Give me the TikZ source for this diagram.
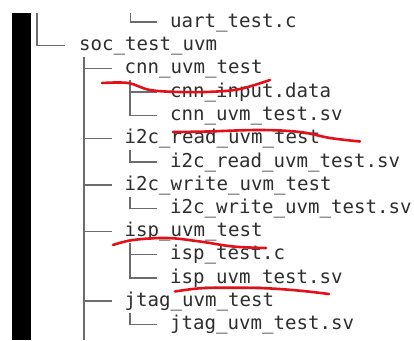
\documentclass[tikz,border=0pt]{standalone}
\usepackage{fontspec}
\setmonofont{DejaVu Sans Mono}
\usetikzlibrary{calc}
\definecolor{ink}{HTML}{2E2E2E}
\definecolor{rule}{HTML}{6C6C6C}
\definecolor{pen}{HTML}{E3101A}
\begin{document}
\begin{tikzpicture}[x=1pt,y=-1pt,
  entry/.style={anchor=base west, inner sep=0pt, text=ink,
    font=\ttfamily\fontsize{19.1}{23}\selectfont},
  branch/.style={draw=rule, line width=1.4pt},
  scribble/.style={draw=pen, line width=2.6pt, line cap=round, line join=round}]
\useasboundingbox (0,0) rectangle (414,340);
% dark side bar
\fill[black] (12,13) rectangle (31,340);

% directory entries (baseline = row centre + 5.3)
\node[entry] (uart)    at (170,27.3)    {uart\_test.c};
\node[entry] (soc)     at (79,50.6)     {soc\_test\_uvm};
\node[entry] (cnn)     at (124.5,73.9)  {cnn\_uvm\_test};
\node[entry] (cnnin)   at (170,97.2)    {cnn\_input.data};
\node[entry] (cnnsv)   at (170,120.5)   {cnn\_uvm\_test.sv};
\node[entry] (i2cr)    at (124.5,143.8) {i2c\_read\_uvm\_test};
\node[entry] (i2crsv)  at (170,167.1)   {i2c\_read\_uvm\_test.sv};
\node[entry] (i2cw)    at (124.5,190.4) {i2c\_write\_uvm\_test};
\node[entry] (i2cwsv)  at (170,213.7)   {i2c\_write\_uvm\_test.sv};
\node[entry] (isp)     at (124.5,236.5) {isp\_uvm\_test};
\node[entry] (ispc)    at (170,259.8)   {isp\_test.c};
\node[entry] (ispsv)   at (170,283.1)   {isp\_uvm\_test.sv};
\node[entry] (jtag)    at (124.5,306.4) {jtag\_uvm\_test};
\node[entry] (jtagsv)  at (170,329.9)   {jtag\_uvm\_test.sv};

% branches continuing from above and below the visible part
\coordinate (top0) at (37,13);
\coordinate (top2) at (130.5,13);
\coordinate (more) at (84,340);

\draw[branch] (top2) |- ($(uart.base west)+(-13,-5.3)$);
\draw[branch] (top0) |- ($(soc.base west)+(-14,-5.3)$);
\draw[branch] ($(soc.base west)+(5,6.5)$) -- (more);
\foreach \c in {cnn,i2cr,i2cw,isp,jtag}
  \draw[branch] ($(soc.base west)+(5,6.5)$) |- ($(\c.base west)+(-13,-5.3)$);
\foreach \p/\c in {cnn/cnnin,cnn/cnnsv,i2cr/i2crsv,i2cw/i2cwsv,isp/ispc,isp/ispsv,jtag/jtagsv}
  \draw[branch] ($(\p.base west)+(5.5,6.5)$) |- ($(\c.base west)+(-13,-5.3)$);

% red pen underlines
\draw[scribble] plot[smooth, tension=0.6] coordinates
  {(102,83) (128,83) (150,90) (180,92) (213,91.7) (240,89) (270,80)};
\draw[scribble] plot[smooth, tension=0.6] coordinates
  {(173,132) (207,131.5) (260,130) (300,132) (330,138) (360,141.5)};
\draw[scribble] plot[smooth, tension=0.6] coordinates
  {(113,245) (133,240) (167,238) (200,241.5) (233,246.5) (266,248)};
\draw[scribble] plot[smooth, tension=0.6] coordinates
  {(175,291.5) (200,288.3) (233,287.7) (267,288.3) (300,290.7) (329,294)};
\end{tikzpicture}
\end{document}
